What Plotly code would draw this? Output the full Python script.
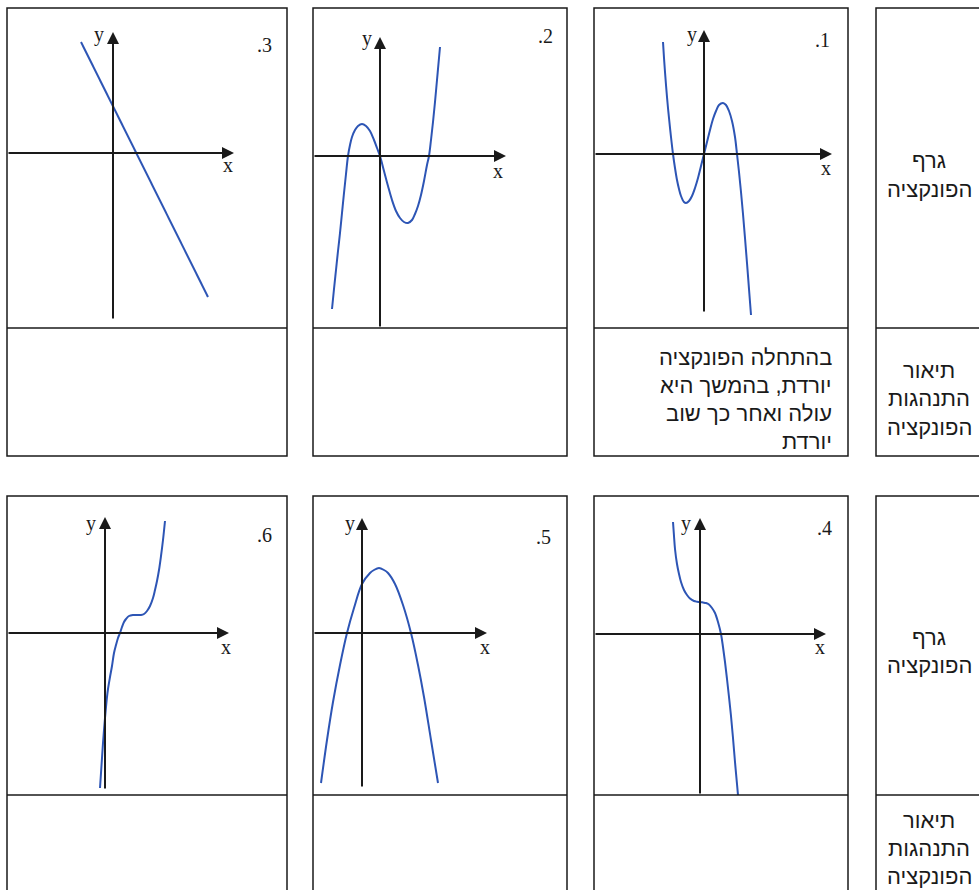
import plotly.graph_objects as go

W, H = 979, 890

# curve points, offsets from each panel's origin (x right, y up)
p1_x = [-41, -40, -39, -38, -37, -36, -35, -33, -31, -29, -27, -25, -23, -20, -18, -15, -12, -9, -6, -3, 0,
        3, 6, 9, 12, 15, 19, 22, 25, 28, 31, 33, 35, 37, 39, 41, 43, 45, 47]
p1_y = [112, 96, 82, 69, 57, 46, 36, 17, 0, -14, -26, -35, -42, -48, -49, -47, -42, -34, -24, -12, 0,
        12, 24, 35, 43, 49, 51, 49, 43, 33, 17, 0, -18, -38, -60, -84, -109, -135, -161]

p2_x = [-48, -46, -44, -42, -40, -38, -36, -34, -32, -30, -28, -25, -22, -18, -14, -10, -6, -3, 0,
        4, 8, 12, 16, 20, 24, 28, 32, 35, 38, 41, 44, 47, 49, 51, 53, 55, 57, 59, 60]
p2_y = [-153, -133, -114, -95, -77, -57, -37, -18, 0, 11, 19, 26, 30, 32, 30, 25, 16, 8, 0,
        -15, -30, -44, -55, -62, -66, -67, -64, -58, -50, -39, -25, -9, 0, 16, 34, 54, 76, 98, 109]

p3_x = [-32, 95]
p3_y = [111, -144]

p4_x = [-27, -26, -25, -23, -21, -19, -16, -13, -10, -6, -3, 0, 3, 6, 9, 12, 15, 18, 21,
        23, 25, 27, 29, 31, 33, 35, 37, 38]
p4_y = [112, 98, 85, 70, 60, 52, 44, 39, 35.5, 33, 32.3, 32, 31.5, 31, 29.5, 26, 21, 12, 0,
        -13, -28, -45, -63, -82, -104, -128, -150, -161]

p5_x = [-41, -35, -29, -22, -15, -8, 0, 8, 12, 17, 22, 26, 33, 41, 49, 56, 62, 69, 76]
p5_y = [-150, -107, -69, -32, 0, 25, 49, 60, 63, 65, 63, 60, 49, 28, 0, -32, -64, -107, -150]

p6_x = [-5, -4, -3, -2, -1, 0, 1, 2, 3, 5, 7, 9, 11, 13, 15, 17, 19, 21, 24, 28, 32, 36, 39, 42,
        45, 48, 50, 52, 54, 56, 58, 60]
p6_y = [-155, -140, -125, -110, -97, -85, -74, -64, -56, -44, -33, -20, -12, -5, 0, 6, 11, 14, 17, 18, 18, 18, 19, 22,
        27, 35, 43, 52, 63, 77, 93, 112]

curves = [(p1_x, p1_y), (p2_x, p2_y), (p3_x, p3_y), (p4_x, p4_y), (p5_x, p5_y), (p6_x, p6_y)]
numbers = [".1", ".2", ".3", ".4", ".5", ".6"]

# texts
desc_1 = ["בהתחלה הפונקציה", "יורדת, בהמשך היא", "עולה ואחר כך שוב", "יורדת"]
label_graph = ["גרף", "הפונקציה"]
label_desc = ["תיאור", "התנהגות", "הפונקציה"]

# cell geometry in pixels (left, right, top, divider, origin x, origin y, x tip, y top, y bottom)
panels = [
    dict(l=594, r=848, t=8, d=328, ox=704, oy=154, xt=832, yt=30, yb=313, ylab=(692, 34), xlab=(826, 168), num=(822, 40)),
    dict(l=313, r=567, t=8, d=328, ox=380, oy=156, xt=506, yt=37, yb=328, ylab=(367, 39), xlab=(498, 171), num=(545, 36)),
    dict(l=7, r=287, t=8, d=328, ox=113, oy=153, xt=234, yt=32, yb=320, ylab=(99, 35), xlab=(228, 165), num=(264, 45)),
    dict(l=594, r=848, t=496, d=795, ox=700, oy=634, xt=826, yt=518, yb=795, ylab=(686, 523), xlab=(820, 647), num=(824, 528)),
    dict(l=313, r=567, t=496, d=795, ox=362, oy=633, xt=487, yt=518, yb=788, ylab=(350, 523), xlab=(485, 647), num=(543, 537)),
    dict(l=7, r=287, t=496, d=795, ox=105, oy=633, xt=229, yt=517, yb=790, ylab=(91, 523), xlab=(226, 647), num=(264, 535)),
]
row_bottom = [456, 905]

BLUE = "#2d55b5"
INK = "#1a1a1a"
SERIF = "Liberation Serif, Times New Roman, serif"
SANS = "Liberation Sans, Arial, DejaVu Sans, sans-serif"


def px(x):
    return x / W


def py(y):
    return 1 - y / H


fig = go.Figure()
shapes = []
annotations = []
layout_axes = {}

for i, (p, (cx, cy)) in enumerate(zip(panels, curves), start=1):
    xa, ya = f"x{i}", f"y{i}"
    layout_axes[f"xaxis{i}"] = dict(domain=[px(p["l"]), px(p["r"])], range=[p["l"] - p["ox"], p["r"] - p["ox"]],
                                    visible=False, fixedrange=True, anchor=ya)
    layout_axes[f"yaxis{i}"] = dict(domain=[py(p["d"]), py(p["t"])], range=[p["oy"] - p["d"], p["oy"] - p["t"]],
                                    visible=False, fixedrange=True, anchor=xa)

    # x and y axes with arrowheads
    annotations.append(dict(x=p["xt"] - p["ox"], y=0, ax=p["l"] - p["ox"], ay=0, xref=xa, yref=ya, axref=xa, ayref=ya,
                            text="", showarrow=True, arrowhead=2, arrowsize=1.2, arrowwidth=2, arrowcolor=INK, standoff=0))
    annotations.append(dict(x=0, y=p["oy"] - p["yt"], ax=0, ay=p["oy"] - p["yb"], xref=xa, yref=ya, axref=xa, ayref=ya,
                            text="", showarrow=True, arrowhead=2, arrowsize=1.2, arrowwidth=2, arrowcolor=INK, standoff=0))

    fig.add_trace(go.Scatter(x=cx, y=cy, mode="lines", xaxis=xa, yaxis=ya, hoverinfo="skip",
                             line=dict(color=BLUE, width=2, shape="spline", smoothing=1.0), showlegend=False))

    for txt, pos in (("y", p["ylab"]), ("x", p["xlab"]), (numbers[i - 1], p["num"])):
        annotations.append(dict(x=px(pos[0]), y=py(pos[1]), xref="paper", yref="paper", text=txt, showarrow=False,
                                xanchor="center", yanchor="middle", font=dict(family=SERIF, size=20, color=INK)))

    # cell frame and divider
    bottom = row_bottom[0] if p["t"] < 400 else row_bottom[1]
    shapes.append(dict(type="rect", xref="paper", yref="paper", x0=px(p["l"]), x1=px(p["r"]), y0=py(bottom), y1=py(p["t"]),
                       line=dict(color=INK, width=1.5)))
    shapes.append(dict(type="line", xref="paper", yref="paper", x0=px(p["l"]), x1=px(p["r"]), y0=py(p["d"]), y1=py(p["d"]),
                       line=dict(color=INK, width=1.5)))

# label column (cut by the right edge)
for top, div, bottom in ((8, 328, row_bottom[0]), (496, 795, row_bottom[1])):
    shapes.append(dict(type="rect", xref="paper", yref="paper", x0=px(876), x1=px(W + 20), y0=py(bottom), y1=py(top),
                       line=dict(color=INK, width=1.5)))
    shapes.append(dict(type="line", xref="paper", yref="paper", x0=px(876), x1=px(W + 20), y0=py(div), y1=py(div),
                       line=dict(color=INK, width=1.5)))

label_rows = [(label_graph, [160, 189]), (label_desc, [370, 398, 427]),
              (label_graph, [637, 665]), (label_desc, [820, 848, 876])]
for lines, ys in label_rows:
    for txt, y in zip(lines, ys):
        annotations.append(dict(x=px(929), y=py(y), xref="paper", yref="paper", text=txt, showarrow=False,
                                xanchor="center", yanchor="middle", font=dict(family=SANS, size=22, color=INK)))

for txt, y in zip(desc_1, [357, 385, 413, 441]):
    annotations.append(dict(x=px(834), y=py(y), xref="paper", yref="paper", text=txt, showarrow=False,
                            xanchor="right", yanchor="middle", font=dict(family=SANS, size=22, color=INK)))

fig.update_layout(width=W, height=H, margin=dict(l=0, r=0, t=0, b=0), paper_bgcolor="white", plot_bgcolor="rgba(0,0,0,0)",
                  shapes=shapes, annotations=annotations, showlegend=False, **layout_axes)

# drop the browser's default page margin so the figure sits at the window corner
fig.write_html("out.html", config={"displayModeBar": False},
               post_script="document.body.style.margin='0';")
